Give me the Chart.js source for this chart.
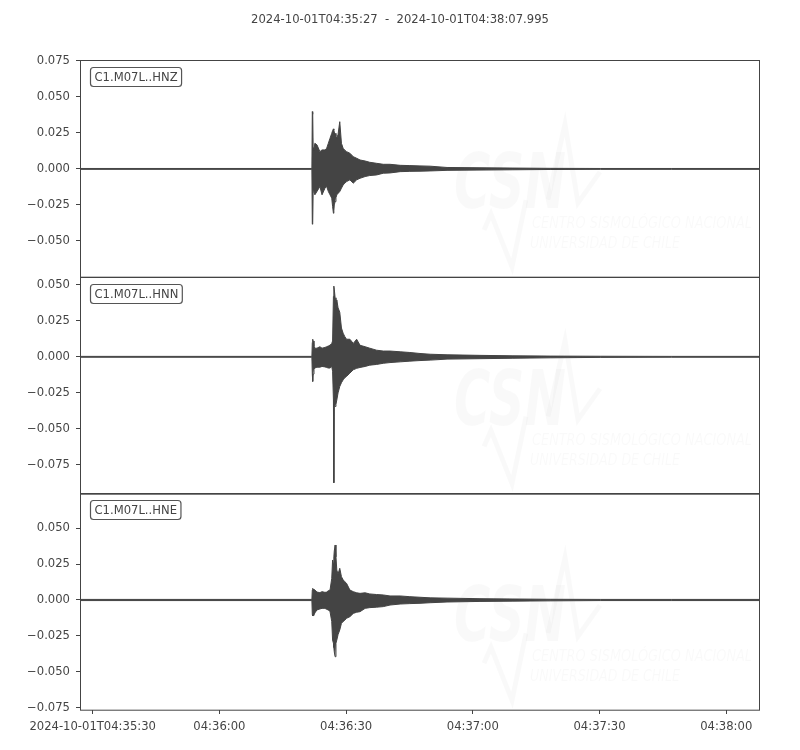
<!DOCTYPE html>
<html>
<head>
<meta charset="utf-8">
<script src="https://cdn.jsdelivr.net/npm/chart.js@4/dist/chart.umd.min.js"></script>
<style>
  body { margin: 0; background: #fff; }
</style>
</head>
<body>
<canvas id="sismo" width="800" height="750"></canvas>
<script>
// segundos desde 2024-10-01T04:35:27
const tiempos = [0, 54.9, 55.0, 55.1, 55.2, 55.4, 55.6, 56.1, 56.8, 57.3, 58.0, 58.4, 58.8, 59.2, 59.6, 59.8,
  60.0, 60.1, 60.2, 60.4, 60.6, 60.8, 61.1, 61.5, 61.9, 62.3, 62.7, 63.1, 63.9, 64.7, 65.5, 66.3,
  67.5, 68.6, 70.2, 71.8, 73.4, 75.8, 78.1, 80.5, 82.9, 86.9, 94.7, 102.5, 111.3, 123.2, 140, 161];

const canales = ['C1.M07L..HNZ', 'C1.M07L..HNN', 'C1.M07L..HNE'];

// envolvente (máx / mín) de cada traza
const hnzMax = [0.0003, 0.0003, 0.0398, 0.0380, 0.0150, 0.0130, 0.0178, 0.0167, 0.0120, 0.0132, 0.0132, 0.0143, 0.0178, 0.0213, 0.0247, 0.0265,
  0.0278, 0.0270, 0.0255, 0.0247, 0.0225, 0.0213, 0.0240, 0.0328, 0.0178, 0.0143, 0.0130, 0.0120, 0.0109, 0.0085, 0.0074, 0.0062,
  0.0055, 0.0046, 0.0039, 0.0032, 0.0032, 0.0025, 0.0023, 0.0021, 0.0019, 0.0010, 0.0008, 0.0006, 0.0004, 0.0003, 0.0003, 0.0003];
const hnzMin = [-0.0003, -0.0003, -0.0384, -0.0370, -0.0160, -0.0150, -0.0180, -0.0157, -0.0122, -0.0180, -0.0134, -0.0122, -0.0157, -0.0180, -0.0203, -0.0260,
  -0.0308, -0.0290, -0.0250, -0.0227, -0.0200, -0.0180, -0.0170, -0.0157, -0.0134, -0.0111, -0.0100, -0.0088, -0.0076, -0.0099, -0.0076, -0.0065,
  -0.0053, -0.0046, -0.0042, -0.0030, -0.0028, -0.0019, -0.0017, -0.0016, -0.0014, -0.0010, -0.0008, -0.0006, -0.0004, -0.0003, -0.0003, -0.0003];

const hnnMax = [0.0003, 0.0003, 0.0100, 0.0122, 0.0110, 0.0070, 0.0060, 0.0060, 0.0070, 0.0060, 0.0065, 0.0070, 0.0075, 0.0081, 0.0093, 0.0110,
  0.0420, 0.0491, 0.0470, 0.0410, 0.0330, 0.0395, 0.0340, 0.0310, 0.0200, 0.0164, 0.0140, 0.0122, 0.0122, 0.0093, 0.0122, 0.0080,
  0.0070, 0.0060, 0.0046, 0.0040, 0.0040, 0.0035, 0.0030, 0.0023, 0.0018, 0.0014, 0.0010, 0.0007, 0.0005, 0.0004, 0.0003, 0.0003];
const hnnMin = [-0.0003, -0.0003, -0.0120, -0.0171, -0.0120, -0.0085, -0.0078, -0.0072, -0.0072, -0.0067, -0.0070, -0.0074, -0.0078, -0.0078, -0.0067, -0.0100,
  -0.0300, -0.0875, -0.0345, -0.0345, -0.0330, -0.0300, -0.0250, -0.0206, -0.0180, -0.0160, -0.0145, -0.0136, -0.0113, -0.0090, -0.0080, -0.0074,
  -0.0067, -0.0058, -0.0053, -0.0045, -0.0040, -0.0035, -0.0030, -0.0026, -0.0023, -0.0016, -0.0013, -0.0010, -0.0007, -0.0004, -0.0003, -0.0003];

const hneMax = [0.0004, 0.0004, 0.0070, 0.0081, 0.0075, 0.0070, 0.0070, 0.0055, 0.0051, 0.0058, 0.0053, 0.0055, 0.0065, 0.0069, 0.0150, 0.0278,
  0.0250, 0.0300, 0.0340, 0.0382, 0.0300, 0.0208, 0.0180, 0.0220, 0.0162, 0.0140, 0.0127, 0.0116, 0.0069, 0.0058, 0.0050, 0.0046,
  0.0050, 0.0042, 0.0038, 0.0035, 0.0028, 0.0028, 0.0023, 0.0019, 0.0015, 0.0013, 0.0009, 0.0007, 0.0005, 0.0004, 0.0004, 0.0004];
const hneMin = [-0.0004, -0.0004, -0.0100, -0.0111, -0.0108, -0.0104, -0.0090, -0.0069, -0.0062, -0.0058, -0.0058, -0.0065, -0.0069, -0.0081, -0.0150, -0.0278,
  -0.0300, -0.0330, -0.0360, -0.0394, -0.0300, -0.0278, -0.0240, -0.0208, -0.0162, -0.0150, -0.0140, -0.0127, -0.0116, -0.0093, -0.0085, -0.0081,
  -0.0058, -0.0053, -0.0050, -0.0046, -0.0035, -0.0028, -0.0025, -0.0023, -0.0019, -0.0014, -0.0010, -0.0008, -0.0006, -0.0004, -0.0004, -0.0004];

// ejes
const xTicks = [3, 33, 63, 93, 123, 153];
const xTickLabels = ['2024-10-01T04:35:30', '04:36:00', '04:36:30', '04:37:00', '04:37:30', '04:38:00'];
const ticksZ = [0.075, 0.05, 0.025, 0, -0.025, -0.05];
const ticksN = [0.05, 0.025, 0, -0.025, -0.05, -0.075];
const ticksE = [0.05, 0.025, 0, -0.025, -0.05, -0.075];
const rangoZ = [-0.0748, 0.0757];
const rangoN = [-0.0948, 0.0557];
const rangoE = [-0.0764, 0.0741];

const titulo = '2024-10-01T04:35:27  -  2024-10-01T04:38:07.995';
const gris = '#444';
const fuente = '"DejaVu Sans", sans-serif';

const pts = arr => tiempos.map((t, i) => ({ x: t, y: arr[i] }));

function traza(max, min, eje) {
  return [
    { data: pts(max), yAxisID: eje, fill: '+1', borderColor: gris, backgroundColor: gris,
      borderWidth: 1, pointRadius: 0, tension: 0 },
    { data: pts(min), yAxisID: eje, fill: false, borderColor: gris, backgroundColor: gris,
      borderWidth: 1, pointRadius: 0, tension: 0 }
  ];
}

function ejeY(rango, ticks) {
  return {
    type: 'linear', position: 'left', stack: 'trazas', stackWeight: 1,
    min: rango[0], max: rango[1],
    afterBuildTicks: s => { s.ticks = ticks.map(v => ({ value: v })); },
    afterFit: s => { s.width = 80; },
    border: { display: false },
    grid: { drawOnChartArea: false, tickLength: 4, color: gris, tickWidth: 1 },
    ticks: {
      color: gris, padding: 6, font: { family: fuente, size: 11.6 },
      callback: v => (v < 0 ? '\u2212' : '') + Math.abs(v).toFixed(3)
    }
  };
}

// marco de cada panel, etiqueta de canal y marca de agua
const marco = {
  id: 'marco',
  beforeDatasetsDraw(chart) {
    const ctx = chart.ctx, a = chart.chartArea;
    ctx.save();
    ['p1', 'p2', 'p3'].forEach(id => {
      const T = chart.scales[id].top, L = a.left;
      ctx.fillStyle = 'rgba(0,0,0,0.025)';
      ctx.strokeStyle = 'rgba(0,0,0,0.025)';
      ctx.font = 'italic bold 76px ' + fuente;
      ctx.textBaseline = 'alphabetic';
      ctx.fillText('CSN', L + 374, T + 148, 112);
      ctx.font = 'italic 16px "DejaVu Sans Condensed", ' + fuente;
      ctx.fillText('CENTRO SISMOLÓGICO NACIONAL', L + 452, T + 168, 220);
      ctx.fillText('UNIVERSIDAD DE CHILE', L + 450, T + 188, 150);
      ctx.lineWidth = 5;
      ctx.beginPath();
      ctx.moveTo(L + 404, T + 170); ctx.lineTo(L + 411, T + 154);
      ctx.lineTo(L + 432, T + 207); ctx.lineTo(L + 446, T + 140);
      ctx.moveTo(L + 468, T + 140); ctx.lineTo(L + 485, T + 64);
      ctx.lineTo(L + 498, T + 143); ctx.lineTo(L + 520, T + 112);
      ctx.stroke();
    });
    ctx.restore();
  },
  afterDatasetsDraw(chart) {
    const ctx = chart.ctx, a = chart.chartArea;
    ctx.save();
    ['p1', 'p2', 'p3'].forEach((id, i) => {
      const s = chart.scales[id];
      ctx.strokeStyle = gris;
      ctx.lineWidth = 1;
      ctx.strokeRect(a.left + 0.5, Math.round(s.top) + 0.5, a.right - a.left - 1, s.bottom - s.top);
      ctx.font = '11.6px ' + fuente;
      const w = ctx.measureText(canales[i]).width;
      const bx = a.left + 10.5, by = Math.round(s.top) + 7.5;
      ctx.fillStyle = '#fff';
      ctx.strokeStyle = '#555';
      ctx.lineWidth = 1.2;
      ctx.beginPath();
      ctx.roundRect(bx, by, w + 8, 19, 3);
      ctx.fill();
      ctx.stroke();
      ctx.fillStyle = gris;
      ctx.textBaseline = 'middle';
      ctx.fillText(canales[i], bx + 4, by + 10);
    });
    ctx.restore();
  }
};

new Chart(document.getElementById('sismo'), {
  type: 'line',
  data: {
    datasets: [
      ...traza(hnzMax, hnzMin, 'p1'),
      ...traza(hnnMax, hnnMin, 'p2'),
      ...traza(hneMax, hneMin, 'p3')
    ]
  },
  options: {
    responsive: false,
    animation: false,
    layout: { padding: 0 },
    plugins: {
      legend: { display: false },
      tooltip: { enabled: false },
      title: {
        display: true, text: titulo, color: gris,
        font: { family: fuente, size: 11.6, weight: 'normal' },
        padding: { top: 13, bottom: 33 }
      }
    },
    scales: {
      x: {
        type: 'linear', min: 0, max: 160.995,
        afterBuildTicks: s => { s.ticks = xTicks.map(v => ({ value: v })); },
        afterFit: s => { s.height = 40; },
        border: { display: false },
        grid: { drawOnChartArea: false, tickLength: 4, color: gris },
        ticks: {
          color: gris, padding: 6, autoSkip: false, maxRotation: 0,
          font: { family: fuente, size: 11.6 },
          callback: (v, i) => xTickLabels[i]
        }
      },
      // el último eje de la pila queda arriba
      p3: ejeY(rangoE, ticksE),
      p2: ejeY(rangoN, ticksN),
      p1: ejeY(rangoZ, ticksZ),
      margen: {
        type: 'linear', position: 'right',
        grid: { display: false }, border: { display: false },
        ticks: { display: false },
        afterFit: s => { s.width = 40; }
      }
    }
  },
  plugins: [marco]
});
</script>
</body>
</html>
